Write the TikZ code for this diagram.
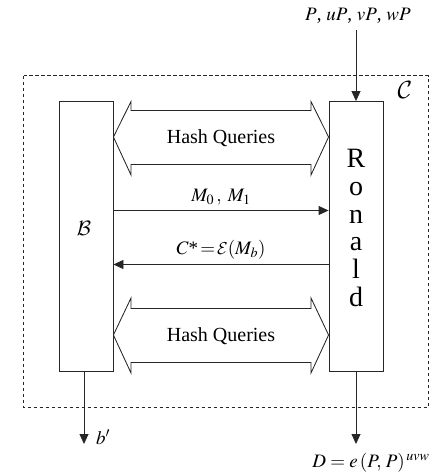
\documentclass[tikz,border=0pt]{standalone}
\usepackage{mathptmx}
\DeclareMathAlphabet{\mathcal}{OMS}{cmsy}{m}{n}
\usepackage{fontspec}
\setmainfont{Liberation Serif}
\usetikzlibrary{arrows.meta}
\begin{document}
\begin{tikzpicture}[x=1pt,y=-1pt,
  ln/.style={draw=black!85, line width=0.85pt},
  box/.style={ln, rectangle, minimum width=54pt, minimum height=270pt, inner sep=0pt},
  arr/.style={ln, -{Triangle[length=10pt,width=9pt]}},
  lbl/.style={font=\fontsize{19}{22}\selectfont, inner sep=1pt}]
\useasboundingbox (0,0) rectangle (429,474);
\draw[ln, dashed, dash pattern=on 3.5pt off 2.5pt] (23.5,75.5) rectangle (428,407.5);
\node[lbl, font=\fontsize{23}{25}\selectfont] (Clbl) at (405,90) {$\mathcal{C}$};
\node[box] (B) at (86,236.5) {};
\node[box] (R) at (356,236.5) {};
\node[lbl, font=\fontsize{22}{24}\selectfont] (Blbl) at (84,228) {$\mathcal{B}$};
\node[align=center, font=\fontsize{28}{27.8}\selectfont, inner sep=0pt] (Rname) at (356,228) {R\\o\\n\\a\\l\\d};
% inputs
\node[lbl] (in) at (358,16) {$P$, $uP$, $vP$, $wP$};
\coordinate (inS) at (356,30);
\draw[arr] (inS) -- (R.north);
% hash queries (upper)
\draw[ln, fill=white] (B.east |- 0,137) -- (131,101.5) -- (131,110.5) -- (311,110.5) -- (311,101.5) -- (R.west |- 0,137)
  -- (311,175) -- (311,164.5) -- (131,164.5) -- (131,175) -- cycle;
\node[lbl, font=\fontsize{20}{22}\selectfont] (hq1) at (221,138) {Hash Queries};
% messages
\draw[arr] (B.east |- 0,210.5) -- node[lbl, above=4pt] (m) {$M_0\,,\; M_1$} (R.west |- 0,210.5);
\draw[arr] (R.west |- 0,264.5) -- node[lbl, above=4pt] (c) {$C$*$\,{=}\,\mathcal{E}(M_b)$} (B.east |- 0,264.5);
% hash queries (lower)
\draw[ln, fill=white] (B.east |- 0,335) -- (131,298) -- (131,308.5) -- (311,308.5) -- (311,298) -- (R.west |- 0,335)
  -- (311,373) -- (311,362.5) -- (131,362.5) -- (131,373) -- cycle;
\node[lbl, font=\fontsize{20}{22}\selectfont] (hq2) at (221,336) {Hash Queries};
% outputs
\coordinate (bout) at (84,444);
\draw[arr] (B.south -| bout) -- (bout);
\node[lbl, anchor=west] (bp) at (95,437) {$b'$};
\coordinate (dout) at (356,444);
\draw[arr] (R.south) -- (dout);
\node[lbl] (D) at (371,463) {$D = e\,(P,\,P)^{\,uvw}$};
\end{tikzpicture}
\end{document}
